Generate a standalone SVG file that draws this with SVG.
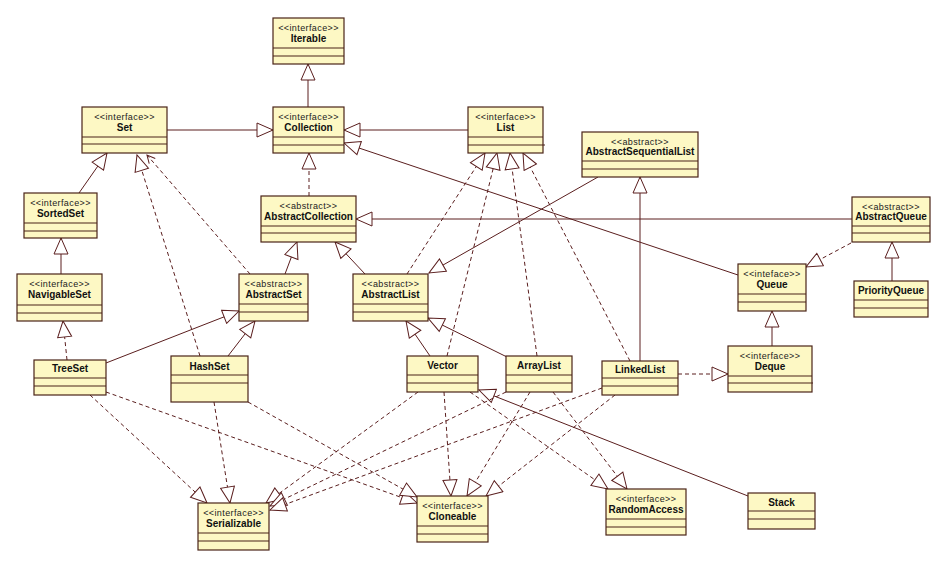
<svg xmlns="http://www.w3.org/2000/svg" width="949" height="568" viewBox="0 0 949 568">
<style>
.box{fill:#FDF8C4;stroke:#4a2318;stroke-width:1.2}
.sep{stroke:#4a2318;stroke-width:1.2}
.st{font-family:"Liberation Sans",Arial,sans-serif;font-size:9px;letter-spacing:0.4px;fill:#222;text-anchor:middle}
.nm{font-family:"Liberation Sans",Arial,sans-serif;font-size:10px;font-weight:bold;fill:#111;text-anchor:middle}
.gen{fill:none;stroke:#5a1e1e;stroke-width:1;marker-end:url(#tri)}
.real{fill:none;stroke:#5a1e1e;stroke-width:1;stroke-dasharray:4 3;marker-end:url(#tri)}
.dep{fill:none;stroke:#5a1e1e;stroke-width:1;stroke-dasharray:4 3;marker-end:url(#open)}
</style>
<defs>
<marker id="tri" viewBox="0 0 18 16" refX="17" refY="8" markerWidth="18" markerHeight="16" orient="auto" markerUnits="userSpaceOnUse"><path d="M1,1 L17,8 L1,15 Z" fill="#fff" stroke="#5a1e1e" stroke-width="1"/></marker>
<marker id="open" viewBox="0 0 10 10" refX="9" refY="5" markerWidth="10" markerHeight="10" orient="auto" markerUnits="userSpaceOnUse"><path d="M1,1 L9,5 L1,9" fill="none" stroke="#5a1e1e" stroke-width="1"/></marker>
</defs>
<rect width="949" height="568" fill="#fff"/>
<g id="connectors">
<path class="gen" d="M308,107 L308,64"/>
<path class="gen" d="M167,130 L273,130"/>
<path class="gen" d="M468,130 L344,130"/>
<path class="gen" d="M285,274 L297,242"/>
<path class="gen" d="M365,274 L335,242"/>
<path class="gen" d="M852,219 L356,219"/>
<path class="gen" d="M79,193 L107,153"/>
<path class="gen" d="M61,274 L61,238"/>
<path class="gen" d="M106,363 L239,311"/>
<path class="gen" d="M228,356 L255,321"/>
<path class="gen" d="M598,177 L429,273"/>
<path class="gen" d="M640,361 L640,177"/>
<path class="gen" d="M738,275 L344,143"/>
<path class="gen" d="M892,281 L892,242"/>
<path class="gen" d="M772,346 L772,311"/>
<path class="gen" d="M430,356 L406,321"/>
<path class="gen" d="M507,357 L428,318"/>
<path class="gen" d="M748,496 L479,390"/>
<path class="real" d="M309,196 L309,153"/>
<path class="real" d="M200,356 L137,155"/>
<path class="real" d="M67,360 L63,321"/>
<path class="real" d="M407,274 L485,153"/>
<path class="real" d="M447,356 L497,153"/>
<path class="real" d="M537,356 L510,153"/>
<path class="real" d="M630,361 L523,153"/>
<path class="real" d="M851,243 L806,267"/>
<path class="real" d="M678,374 L728,374"/>
<path class="real" d="M90,395 L207,503"/>
<path class="real" d="M214,402 L230,503"/>
<path class="real" d="M418,392 L266,503"/>
<path class="real" d="M506,392 L270,506"/>
<path class="real" d="M602,388 L270,510"/>
<path class="real" d="M106,392 L417,503"/>
<path class="real" d="M248,402 L417,497"/>
<path class="real" d="M444,392 L451,496"/>
<path class="real" d="M530,392 L467,496"/>
<path class="real" d="M615,395 L486,496"/>
<path class="real" d="M470,392 L608,489"/>
<path class="real" d="M553,392 L627,489"/>
<path class="dep" d="M250,274 L147,155"/>
</g>
<g id="Iterable"><rect class="box" x="273" y="18" width="71" height="46"/><text class="st" x="308.5" y="31">&lt;&lt;interface&gt;&gt;</text><text class="nm" x="308.5" y="42">Iterable</text><line class="sep" x1="273" y1="48" x2="344" y2="48"/><line class="sep" x1="273" y1="56" x2="344" y2="56"/></g>
<g id="Collection"><rect class="box" x="273" y="107" width="71" height="46"/><text class="st" x="308.5" y="120">&lt;&lt;interface&gt;&gt;</text><text class="nm" x="308.5" y="131">Collection</text><line class="sep" x1="273" y1="137" x2="344" y2="137"/><line class="sep" x1="273" y1="145" x2="344" y2="145"/></g>
<g id="List"><rect class="box" x="468" y="107" width="75" height="46"/><text class="st" x="505.5" y="120">&lt;&lt;interface&gt;&gt;</text><text class="nm" x="505.5" y="131">List</text><line class="sep" x1="468" y1="137" x2="543" y2="137"/><line class="sep" x1="468" y1="145" x2="545" y2="145"/></g>
<g id="Set"><rect class="box" x="82" y="107" width="85" height="46"/><text class="st" x="124.5" y="120">&lt;&lt;interface&gt;&gt;</text><text class="nm" x="124.5" y="131">Set</text><line class="sep" x1="82" y1="137" x2="167" y2="137"/><line class="sep" x1="82" y1="144" x2="167" y2="144"/></g>
<g id="SortedSet"><rect class="box" x="24" y="193" width="73" height="45"/><text class="st" x="60.5" y="206">&lt;&lt;interface&gt;&gt;</text><text class="nm" x="60.5" y="217">SortedSet</text><line class="sep" x1="24" y1="223" x2="97" y2="223"/><line class="sep" x1="24" y1="231" x2="97" y2="231"/></g>
<g id="NavigableSet"><rect class="box" x="17" y="274" width="85" height="47"/><text class="st" x="59.5" y="287">&lt;&lt;interface&gt;&gt;</text><text class="nm" x="59.5" y="298">NavigableSet</text><line class="sep" x1="17" y1="305" x2="102" y2="305"/><line class="sep" x1="17" y1="313" x2="102" y2="313"/></g>
<g id="AbstractCollection"><rect class="box" x="261" y="196" width="95" height="46"/><text class="st" x="308.5" y="209">&lt;&lt;abstract&gt;&gt;</text><text class="nm" x="308.5" y="220">AbstractCollection</text><line class="sep" x1="261" y1="226" x2="356" y2="226"/><line class="sep" x1="261" y1="233" x2="356" y2="233"/></g>
<g id="AbstractSet"><rect class="box" x="239" y="274" width="69" height="47"/><text class="st" x="273.5" y="287">&lt;&lt;abstract&gt;&gt;</text><text class="nm" x="273.5" y="298">AbstractSet</text><line class="sep" x1="239" y1="304" x2="308" y2="304"/><line class="sep" x1="239" y1="312" x2="308" y2="312"/></g>
<g id="AbstractList"><rect class="box" x="353" y="274" width="75" height="47"/><text class="st" x="390.5" y="287">&lt;&lt;abstract&gt;&gt;</text><text class="nm" x="390.5" y="298">AbstractList</text><line class="sep" x1="353" y1="304" x2="428" y2="304"/><line class="sep" x1="353" y1="312" x2="428" y2="312"/></g>
<g id="AbstractSequentialList"><rect class="box" x="582" y="132" width="116" height="45"/><text class="st" x="640" y="145">&lt;&lt;abstract&gt;&gt;</text><text class="nm" x="640" y="155">AbstractSequentialList</text><line class="sep" x1="582" y1="161" x2="698" y2="161"/><line class="sep" x1="582" y1="169" x2="698" y2="169"/></g>
<g id="AbstractQueue"><rect class="box" x="852" y="197" width="78" height="45"/><text class="st" x="891" y="210">&lt;&lt;abstract&gt;&gt;</text><text class="nm" x="891" y="220">AbstractQueue</text><line class="sep" x1="852" y1="226" x2="930" y2="226"/><line class="sep" x1="852" y1="233" x2="930" y2="233"/></g>
<g id="Queue"><rect class="box" x="738" y="264" width="68" height="47"/><text class="st" x="772" y="277">&lt;&lt;inteface&gt;&gt;</text><text class="nm" x="772" y="288">Queue</text><line class="sep" x1="738" y1="294" x2="806" y2="294"/><line class="sep" x1="738" y1="302" x2="806" y2="302"/></g>
<g id="PriorityQueue"><rect class="box" x="854" y="281" width="74" height="36"/><text class="nm" x="891" y="294">PriorityQueue</text><line class="sep" x1="854" y1="300" x2="928" y2="300"/><line class="sep" x1="854" y1="308" x2="928" y2="308"/></g>
<g id="Deque"><rect class="box" x="728" y="346" width="84" height="46"/><text class="st" x="770" y="359">&lt;&lt;interface&gt;&gt;</text><text class="nm" x="770" y="370">Deque</text><line class="sep" x1="728" y1="376" x2="812" y2="376"/><line class="sep" x1="728" y1="383" x2="813" y2="383"/></g>
<g id="TreeSet"><rect class="box" x="34" y="360" width="72" height="35"/><text class="nm" x="70" y="372">TreeSet</text><line class="sep" x1="34" y1="378" x2="106" y2="378"/><line class="sep" x1="34" y1="386" x2="106" y2="386"/></g>
<g id="HashSet"><rect class="box" x="171" y="356" width="77" height="46"/><text class="nm" x="209.5" y="369.5">HashSet</text><line class="sep" x1="171" y1="375" x2="248" y2="375"/><line class="sep" x1="171" y1="383" x2="248" y2="383"/></g>
<g id="Vector"><rect class="box" x="407" y="356" width="71" height="36"/><text class="nm" x="442.5" y="369">Vector</text><line class="sep" x1="407" y1="375" x2="478" y2="375"/><line class="sep" x1="407" y1="383" x2="478" y2="383"/></g>
<g id="ArrayList"><rect class="box" x="506" y="356" width="66" height="36"/><text class="nm" x="539" y="369">ArrayList</text><line class="sep" x1="506" y1="375" x2="572" y2="375"/><line class="sep" x1="506" y1="383" x2="572" y2="383"/></g>
<g id="LinkedList"><rect class="box" x="602" y="361" width="76" height="34"/><text class="nm" x="640" y="372.5">LinkedList</text><line class="sep" x1="602" y1="378" x2="678" y2="378"/><line class="sep" x1="602" y1="386" x2="678" y2="386"/></g>
<g id="Serializable"><rect class="box" x="198" y="503" width="71" height="47"/><text class="st" x="233.5" y="516">&lt;&lt;interface&gt;&gt;</text><text class="nm" x="233.5" y="527">Serializable</text><line class="sep" x1="198" y1="533" x2="269" y2="533"/><line class="sep" x1="198" y1="541" x2="269" y2="541"/></g>
<g id="Cloneable"><rect class="box" x="417" y="496" width="71" height="46"/><text class="st" x="452.5" y="509">&lt;&lt;interface&gt;&gt;</text><text class="nm" x="452.5" y="520">Cloneable</text><line class="sep" x1="417" y1="526" x2="488" y2="526"/><line class="sep" x1="417" y1="534" x2="488" y2="534"/></g>
<g id="RandomAccess"><rect class="box" x="606" y="489" width="80" height="46"/><text class="st" x="646" y="502">&lt;&lt;interface&gt;&gt;</text><text class="nm" x="646" y="513">RandomAccess</text><line class="sep" x1="606" y1="519" x2="686" y2="519"/><line class="sep" x1="606" y1="527" x2="686" y2="527"/></g>
<g id="Stack"><rect class="box" x="748" y="493" width="67" height="36"/><text class="nm" x="781.5" y="506">Stack</text><line class="sep" x1="748" y1="511" x2="815" y2="511"/><line class="sep" x1="748" y1="519" x2="815" y2="519"/></g>
</svg>
